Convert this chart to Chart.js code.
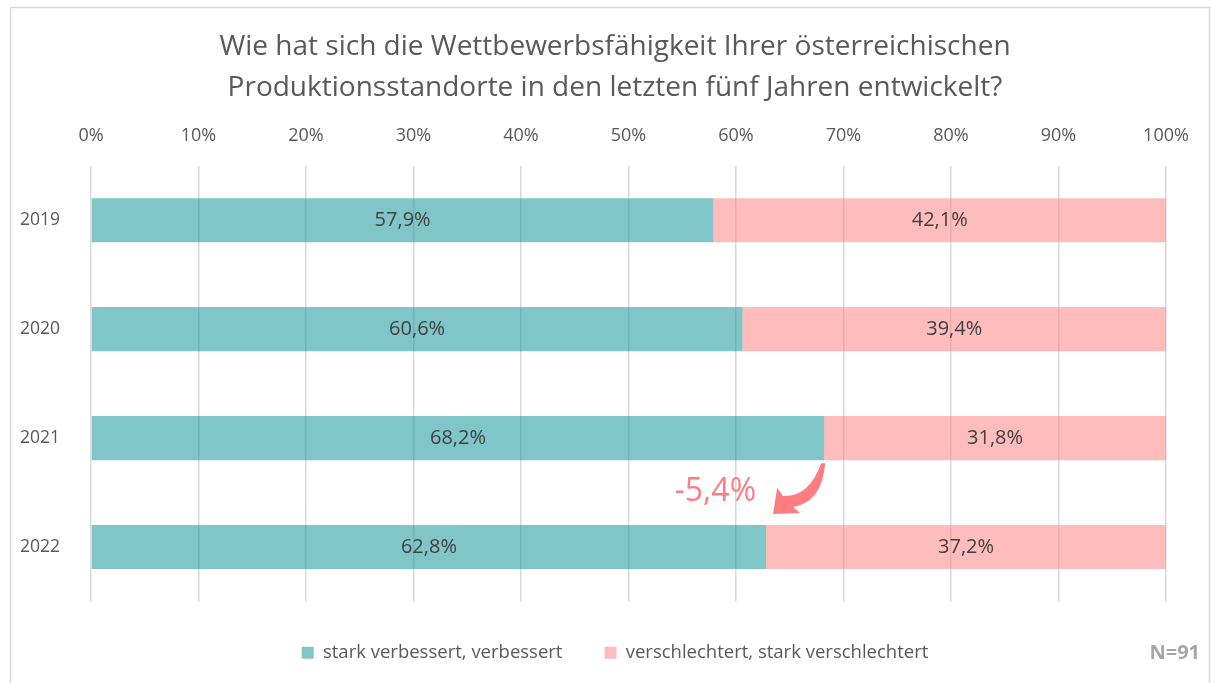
<!DOCTYPE html>
<html>
<head>
<meta charset="utf-8">
<script src="https://cdn.jsdelivr.net/npm/chart.js@4.4.1/dist/chart.umd.min.js"></script>
<style>
  html, body { margin: 0; padding: 0; background: #fff; }
  #wrap { position: relative; width: 1216px; height: 683px; }
</style>
</head>
<body>
<div id="wrap"><canvas id="chart" width="1216" height="683"></canvas></div>
<script>
const years = ['2019', '2020', '2021', '2022'];
const improved = [57.9, 60.6, 68.2, 62.8];
const worsened = [42.1, 39.4, 31.8, 37.2];
const seriesNames = ['stark verbessert, verbessert', 'verschlechtert, stark verschlechtert'];
const titleLines = ['Wie hat sich die Wettbewerbsfähigkeit Ihrer österreichischen', 'Produktionsstandorte in den letzten fünf Jahren entwickelt?'];
const changeLabel = '-5,4%';
const sampleLabel = 'N=91';

const FONT = '"Open Sans", Lato, sans-serif';
const pct = v => v.toFixed(1).replace('.', ',') + '%';

const framePlugin = {
  id: 'frame',
  beforeDraw(chart) {
    const c = chart.ctx;
    c.save();
    c.fillStyle = '#fff';
    c.fillRect(0, 0, chart.width, chart.height);
    c.strokeStyle = '#D9D9D9';
    c.lineWidth = 1.5;
    c.strokeRect(10.5, 7.5, 1199, 690);
    c.restore();
  }
};

const labelPlugin = {
  id: 'barLabels',
  afterDatasetsDraw(chart) {
    const c = chart.ctx;
    c.save();
    c.font = '20px ' + FONT;
    c.fillStyle = '#404040';
    c.textAlign = 'center';
    c.textBaseline = 'middle';
    chart.data.datasets.forEach((ds, i) => {
      chart.getDatasetMeta(i).data.forEach((bar, j) => {
        const p = bar.getCenterPoint();
        c.fillText(pct(ds.data[j]), p.x, p.y);
      });
    });

    // change annotation between 2021 and 2022
    const xs = chart.scales.x;
    const b21 = chart.getDatasetMeta(0).data[2];
    const b22 = chart.getDatasetMeta(0).data[3];
    const tx = xs.getPixelForValue(improved[2]) - 2;
    const ty = b21.y + b21.height / 2 + 3;
    const hx = xs.getPixelForValue(improved[3]) + 7;
    const hy = b22.y - b22.height / 2 - 11;
    c.fillStyle = '#FF7C80';
    c.beginPath();
    c.moveTo(tx - 1, ty);
    c.quadraticCurveTo(tx - 13, hy - 17, hx + 10, hy - 18);
    c.lineTo(hx + 4, hy - 26);
    c.lineTo(hx, hy);
    c.lineTo(hx + 27, hy - 1);
    c.lineTo(hx + 20, hy - 7);
    c.quadraticCurveTo(tx, hy - 12, tx + 3, ty);
    c.closePath();
    c.fill();
    c.font = '32px ' + FONT;
    c.textAlign = 'right';
    c.fillText(changeLabel, hx - 17, (ty + hy) / 2 + 3);

    c.font = 'bold 20px ' + FONT;
    c.fillStyle = '#A6A6A6';
    c.textAlign = 'right';
    c.fillText(sampleLabel, 1200, 653);
    c.restore();
  }
};

new Chart(document.getElementById('chart'), {
  type: 'bar',
  data: {
    labels: years,
    datasets: [
      { label: seriesNames[0], data: improved, backgroundColor: 'rgba(24,151,155,0.55)', borderWidth: 0, barPercentage: 0.5, categoryPercentage: 0.81 },
      { label: seriesNames[1], data: worsened, backgroundColor: 'rgba(255,133,133,0.55)', borderWidth: 0, barPercentage: 0.5, categoryPercentage: 0.81 }
    ]
  },
  options: {
    indexAxis: 'y',
    responsive: false,
    animation: false,
    layout: { padding: { left: 14, right: 0, top: 7, bottom: 11 } },
    plugins: {
      title: {
        display: true,
        text: titleLines,
        color: '#595959',
        font: { family: FONT, size: 28, weight: 'normal', lineHeight: 1.46 },
        padding: { top: 20, bottom: 10 }
      },
      legend: {
        position: 'bottom',
        labels: {
          color: '#595959',
          font: { family: FONT, size: 18.5 },
          boxWidth: 12,
          boxHeight: 12,
          padding: 42
        }
      },
      tooltip: { enabled: false }
    },
    scales: {
      x: {
        position: 'top',
        stacked: true,
        min: 0,
        max: 100,
        ticks: { stepSize: 10, callback: v => v + '%', color: '#595959', font: { family: FONT, size: 18 }, padding: 19 },
        grid: { color: '#D9D9D9', lineWidth: 1.5, drawTicks: false },
        border: { display: false },
        afterFit(s) { s.height = 47; }
      },
      y: {
        stacked: true,
        ticks: { color: '#595959', font: { family: FONT, size: 17.5 }, padding: 23 },
        grid: { display: false },
        border: { display: false },
        afterFit(s) { s.width = 77; }
      },
      yRight: {
        position: 'right',
        ticks: { display: false },
        grid: { display: false },
        border: { display: false },
        afterFit(s) { s.width = 50; }
      }
    }
  },
  plugins: [framePlugin, labelPlugin]
});
</script>
</body>
</html>
